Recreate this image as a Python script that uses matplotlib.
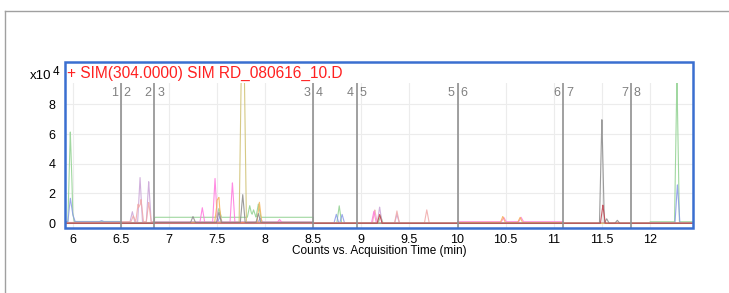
import numpy as np
import matplotlib
matplotlib.use("Agg")
import matplotlib.pyplot as plt
from matplotlib.patches import Rectangle
from matplotlib.lines import Line2D

plt.rcParams['font.family'] = ['Liberation Sans', 'DejaVu Sans']

# ---------------- data ----------------
title = "+ SIM(304.0000) SIM RD_080616_10.D"
xlabel = "Counts vs. Acquisition Time (min)"
x_ticks = [6, 6.5, 7, 7.5, 8, 8.5, 9, 9.5, 10, 10.5, 11, 11.5, 12]
x_ticklabels = ["6", "6.5", "7", "7.5", "8", "8.5", "9", "9.5", "10", "10.5", "11", "11.5", "12"]
y_ticks = [0, 2, 4, 6, 8]
y_ticklabels = ["0", "2", "4", "6", "8"]

seg_times = [6.5, 6.85, 8.5, 8.95, 10.0, 11.1, 11.8]
seg_left = ["1", "2", "3", "4", "5", "6", "7"]
seg_right = ["2", "3", "4", "5", "6", "7", "8"]

# baseline breakpoints shared by all traces (segment edges)
base_edges = [5.92, 6.5, 6.85, 8.5, 8.95, 10.0, 11.1, 11.8, 12.0, 12.45]

# per trace: baseline levels (x1e4 counts) in each interval, peak times, peak heights
green_base = [0.12, 0.05, 0.40, 0.0, 0.0, 0.0, 0.0, 0.0, 0.10]
green_t = [5.975, 5.99, 7.52, 7.84, 7.88, 7.93, 8.77, 9.20, 12.28]
green_h = [5.7, 1.0, 0.6, 0.78, 0.5, 0.9, 1.18, 0.5, 9.8]

blue_base = [0.10, 0.02, 0.05, 0.0, 0.0, 0.0, 0.0, 0.0, 0.02]
blue_t = [5.975, 6.0, 6.3, 7.53, 7.95, 8.74, 8.80, 12.285]
blue_h = [1.6, 0.5, 0.08, 0.4, 0.3, 0.6, 0.6, 2.6]

purple_base = [0.05, 0.08, 0.1, 0.0, 0.0, 0.0, 0.0, 0.0, 0.0]
purple_t = [6.62, 6.70, 6.79, 9.19, 9.37]
purple_h = [0.7, 3.0, 2.73, 1.1, 0.6]

salmon_base = [0.05, 0.1, 0.05, 0.0, 0.0, 0.0, 0.0, 0.0, 0.0]
salmon_t = [6.63, 6.68, 6.71, 6.79, 9.14, 9.37, 9.68]
salmon_h = [0.4, 1.2, 1.5, 1.3, 0.9, 0.83, 0.9]

magenta_base = [0.0, 0.0, 0.05, 0.0, 0.0, 0.1, 0.0, 0.0, 0.0]
magenta_t = [7.347, 7.479, 7.66, 8.15, 9.13, 10.48, 10.66]
magenta_h = [1.0, 3.0, 2.7, 0.2, 0.8, 0.3, 0.3]

orange_base = [0.0, 0.0, 0.05, 0.0, 0.0, 0.05, 0.0, 0.0, 0.0]
orange_t = [7.50, 7.52, 7.94, 10.47, 10.65]
orange_h = [1.2, 1.45, 1.38, 0.4, 0.35]

olive_base = [0.0, 0.0, 0.05, 0.0, 0.0, 0.0, 0.0, 0.0, 0.0]
olive_t = [7.755, 7.78]
olive_h = [12.0, 12.0]

gray_base = [0.0, 0.0, 0.05, 0.0, 0.0, 0.0, 0.0, 0.0, 0.0]
gray_t = [7.25, 7.52, 7.767, 7.93, 11.50, 11.55, 11.66]
gray_h = [0.4, 0.7, 1.9, 0.6, 7.06, 0.3, 0.2]

red_base = [0.0, 0.0, 0.0, 0.0, 0.0, 0.0, 0.0, 0.0, 0.0]
red_t = [9.19, 11.51]
red_h = [0.6, 1.23]

traces = [
    (green_base, green_t, green_h, "#8fd18f"),
    (blue_base, blue_t, blue_h, "#8898e8"),
    (purple_base, purple_t, purple_h, "#c9a3d6"),
    (salmon_base, salmon_t, salmon_h, "#f0a8a8"),
    (magenta_base, magenta_t, magenta_h, "#ff77dd"),
    (orange_base, orange_t, orange_h, "#f6b35a"),
    (olive_base, olive_t, olive_h, "#cfc070"),
    (gray_base, gray_t, gray_h, "#8a8a8a"),
    (red_base, red_t, red_h, "#c0404c"),
]

# ---------------- figure ----------------
W, H = 729, 293
fig = plt.figure(figsize=(W / 100, H / 100), dpi=100)

def fx(px):
    return px / W

def fy(py):
    return 1 - py / H

ax_l, ax_r, ax_b, ax_t = 65, 693, 227.7, 83
ax = fig.add_axes([fx(ax_l), fy(ax_b), fx(ax_r) - fx(ax_l), fy(ax_t) - fy(ax_b)])
ax.set_xlim(5.92, 12.447)
ax.set_ylim(-0.30, 9.43)

t = np.linspace(5.92, 12.447, 8000)
half_w = 0.025
for base, pt, ph, col in traces:
    idx = np.clip(np.searchsorted(base_edges, t, side="right") - 1, 0, len(base) - 1)
    y = np.asarray(base)[idx].astype(float)
    for tc, h in zip(pt, ph):
        y = y + h * np.clip(1 - np.abs(t - tc) / half_w, 0, None)
    ax.plot(t, y, color=col, lw=0.8, alpha=0.85, zorder=3)

for s in ax.spines.values():
    s.set_visible(False)
ax.set_xticks(x_ticks)
ax.set_xticklabels(x_ticklabels, fontsize=9)
ax.set_yticks(y_ticks)
ax.set_yticklabels(y_ticklabels, fontsize=9)
ax.tick_params(axis="x", length=0, pad=4.5)
ax.tick_params(axis="y", length=0, pad=7)
ax.grid(True, color="#ececec", lw=0.8, zorder=0)
ax.set_xlabel(xlabel, fontsize=8.5, labelpad=-1)

for st, l1, l2 in zip(seg_times, seg_left, seg_right):
    ax.axvline(st, color="#909090", lw=1.2, zorder=4)
    ax.annotate(l1, (st, 1), xycoords=("data", "axes fraction"), xytext=(-2, -3),
                textcoords="offset points", ha="right", va="top", color="#808080", fontsize=9)
    ax.annotate(l2, (st, 1), xycoords=("data", "axes fraction"), xytext=(2, -3),
                textcoords="offset points", ha="left", va="top", color="#808080", fontsize=9)

# blue frame including title area
fig.patches.append(Rectangle((fx(ax_l), fy(ax_b)), fx(ax_r) - fx(ax_l), fy(61.7) - fy(ax_b),
                             transform=fig.transFigure, fill=False, edgecolor="#3a6fd0", lw=1.8,
                             zorder=10))
fig.text(fx(67), fy(73), title, color="#ff2020", fontsize=11.2, ha="left", va="center")
fig.text(fx(30), fy(76), "x10", fontsize=9.5, ha="left", va="center")
fig.text(fx(53), fy(72), "4", fontsize=8.5, ha="left", va="center")

# outer gray frame
fig.lines.append(Line2D([fx(5), 1], [fy(11), fy(11)], transform=fig.transFigure, color="#a0a0a0", lw=1.0))
fig.lines.append(Line2D([fx(5), fx(5)], [fy(11), 0], transform=fig.transFigure, color="#a0a0a0", lw=1.0))

fig.savefig("out.png", dpi=100)
